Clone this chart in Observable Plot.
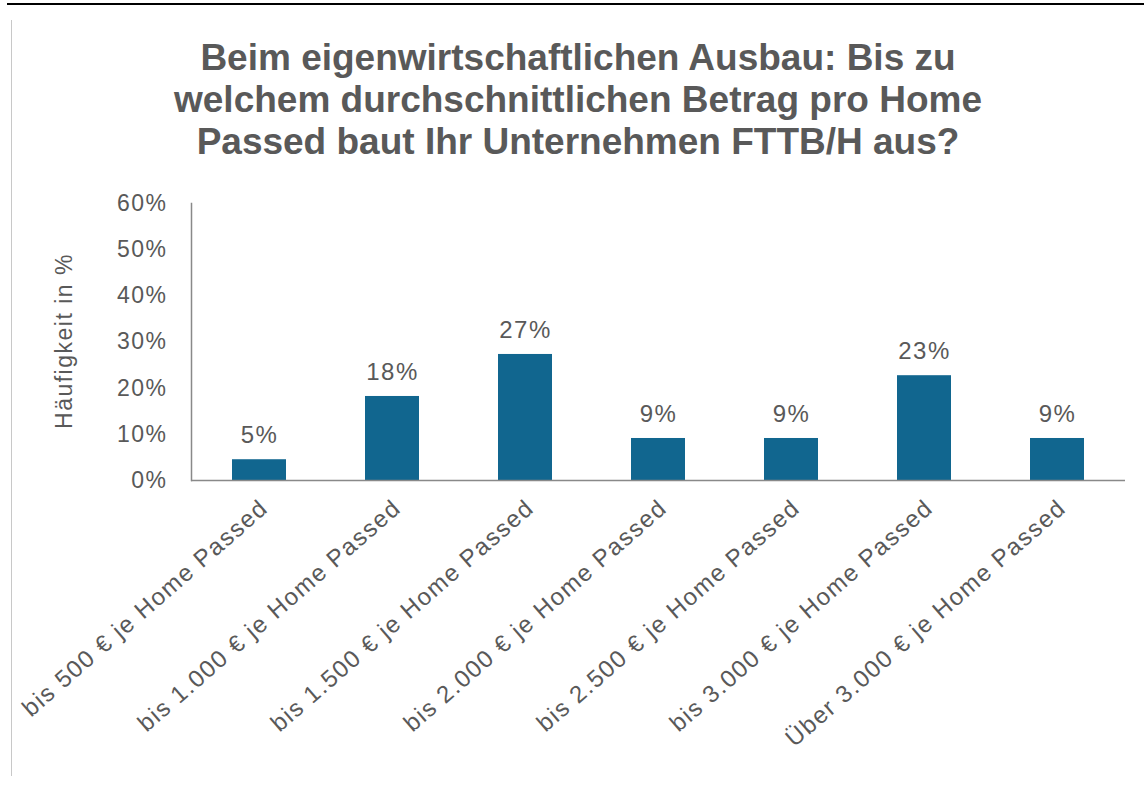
<!DOCTYPE html>
<html>
<head>
<meta charset="utf-8">
<script src="https://cdn.jsdelivr.net/npm/d3@7"></script>
<script src="https://cdn.jsdelivr.net/npm/@observablehq/plot@0.6"></script>
<style>
  html, body { margin: 0; padding: 0; background: #fff; }
  #wrap { position: relative; width: 1144px; height: 785px; overflow: hidden; font-family: "Liberation Sans", Arial, sans-serif; }
  #topline { position: absolute; left: 7px; right: 0; top: 3px; height: 2px; background: #000; }
  #leftline { position: absolute; left: 11px; top: 20px; height: 756px; width: 1px; background: #c8c8c8; }
  #title { position: absolute; left: 12px; width: 1132px; top: 37px; text-align: center; font-weight: bold; font-size: 37px; line-height: 42px; color: #595959; }
  #ytitle { position: absolute; left: -86px; top: 326px; width: 300px; height: 30px; line-height: 30px; text-align: center; font-size: 23px; letter-spacing: 1.5px; color: #595959; transform: rotate(-90deg); }
  #chart { position: absolute; left: 0; top: 0; }
</style>
</head>
<body>
<div id="wrap">
  <div id="topline"></div>
  <div id="leftline"></div>
  <div id="chart"></div>
  <div id="title">Beim eigenwirtschaftlichen Ausbau: Bis zu<br>welchem durchschnittlichen Betrag pro Home<br>Passed baut Ihr Unternehmen FTTB/H aus?</div>
  <div id="ytitle">Häufigkeit in %</div>
</div>
<script>
const categories = [
  "bis 500 € je Home Passed",
  "bis 1.000 € je Home Passed",
  "bis 1.500 € je Home Passed",
  "bis 2.000 € je Home Passed",
  "bis 2.500 € je Home Passed",
  "bis 3.000 € je Home Passed",
  "Über 3.000 € je Home Passed"
];
const values = [4.5, 18.2, 27.3, 9.1, 9.1, 22.7, 9.1];
const valueLabels = ["5%", "18%", "27%", "9%", "9%", "23%", "9%"];
const yTicks = [0, 10, 20, 30, 40, 50, 60];

const data = categories.map((c, i) => ({cat: c, value: values[i], label: valueLabels[i]}));

const chart = Plot.plot({
  width: 1144,
  height: 785,
  marginLeft: 191,
  marginRight: 19,
  marginTop: 203,
  marginBottom: 305,
  style: {fontFamily: "'Liberation Sans', Arial, sans-serif", fontSize: "23px", color: "#595959", letterSpacing: "1.5px", background: "transparent"},
  x: {domain: categories, paddingInner: 0.595, paddingOuter: 0.2975, axis: null},
  y: {domain: [0, 60], axis: null},
  marks: [
    Plot.barY(data, {x: "cat", y: "value", fill: "#11668f"}),
    Plot.text(data, {x: "cat", y: "value", text: "label", dy: -24, fontSize: 24, fill: "#595959"}),
    Plot.axisY({ticks: yTicks, tickSize: 0, tickPadding: 24, tickFormat: d => d + "%", fontSize: 23, label: null, fill: "#595959"}),
    Plot.axisX({tickRotate: -41, tickSize: 0, tickPadding: 24, dx: 5, fontSize: 24, label: null, fill: "#595959"}),
    Plot.frame({anchor: "left", stroke: "#898989", strokeWidth: 1.5}),
    Plot.ruleY([0], {stroke: "#898989", strokeWidth: 1.5})
  ]
});
document.getElementById("chart").appendChild(chart);
</script>
</body>
</html>
